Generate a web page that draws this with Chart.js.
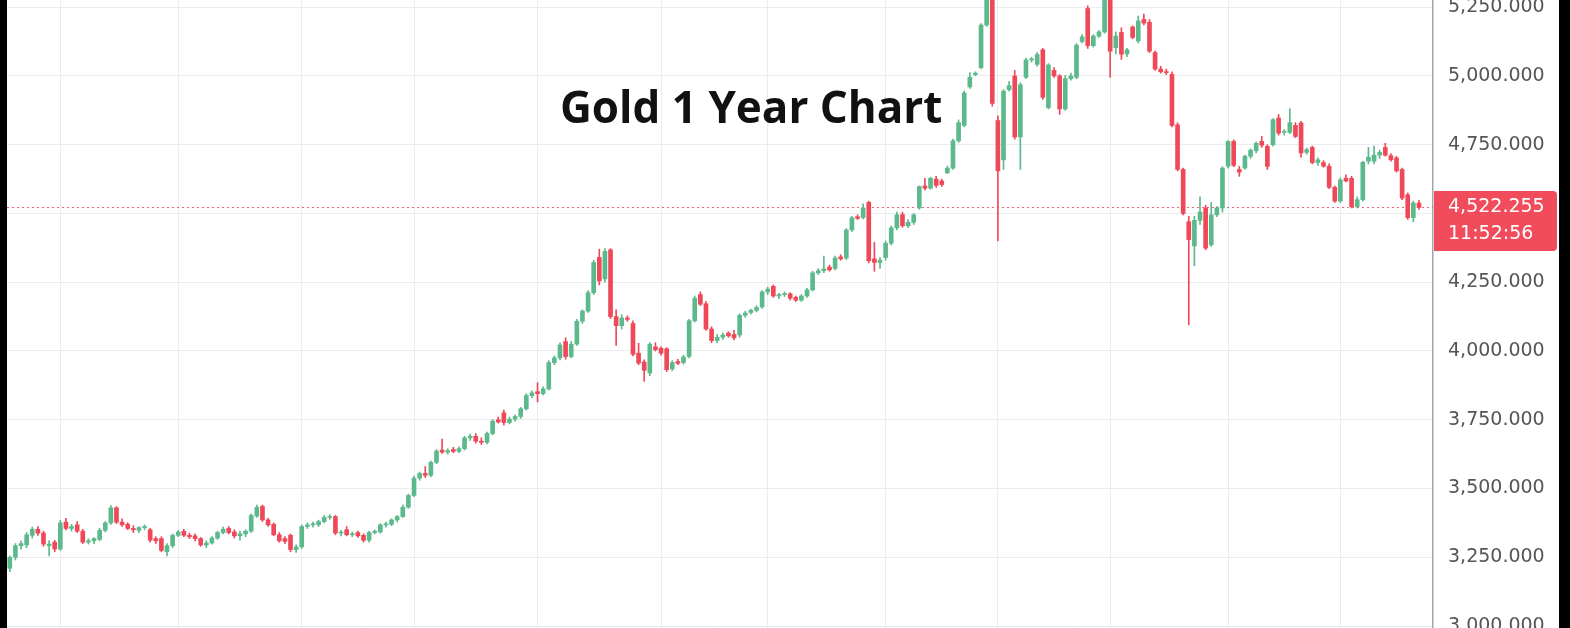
<!DOCTYPE html>
<html>
<head>
<meta charset="utf-8">
<script src="https://cdn.jsdelivr.net/npm/chart.js@4.4.1/dist/chart.umd.min.js"></script>
<style>
    html, body { margin: 0; padding: 0; background: #000; width: 1570px; height: 628px; overflow: hidden; }
    #wrap { position: absolute; left: 7px; top: 0; width: 1552px; height: 628px; background: #fff; }
    #title { position: absolute; left: 560px; top: 84px; font: bold 44px "Open Sans"; line-height: 44px; color: #111; white-space: nowrap; }
</style>
</head>
<body>
<div id="wrap"><canvas id="chart" width="1552" height="628"></canvas></div>
<div id="title">Gold 1 Year Chart</div>
<script>
// Daily OHLC candles (one entry per trading day)
const opens = [
    3210,3250,3292,3295,3330,3352,3338,3292,3305,3280,
    3378,3355,3368,3345,3305,3310,3315,3348,3375,3430,
    3378,3370,3355,3348,3358,3350,3318,3318,3270,3292,
    3330,3345,3330,3328,3318,3295,3302,3320,3340,3355,
    3342,3328,3335,3345,3400,3435,3386,3370,3332,3318,
    3330,3278,3288,3362,3368,3368,3380,3395,3398,3338,
    3350,3332,3340,3330,3312,3340,3342,3368,3370,3386,
    3398,3432,3475,3538,3555,3548,3595,3640,3632,3642,
    3635,3645,3684,3690,3672,3668,3700,3750,3775,3740,
    3752,3762,3790,3838,3852,3845,3862,3958,3975,4034,
    3980,4025,4108,4145,4212,4340,4262,4368,4125,4092,
    4120,4100,3992,3960,3920,4015,4010,4008,3935,3962,
    3958,3980,4110,4205,4172,4080,4038,4050,4065,4060,
    4058,4130,4140,4148,4160,4215,4235,4200,4205,4208,
    4195,4185,4200,4222,4284,4292,4305,4300,4342,4338,
    4440,4488,4485,4540,4335,4322,4340,4392,4448,4496,
    4455,4468,4520,4600,4592,4625,4618,4648,4665,4764,
    4820,4960,5005,5030,5185,5300,4838,4695,4950,5000,
    4778,4995,5058,5042,5095,4885,5020,5000,4880,4990,
    4995,5125,5245,5110,5145,5160,5300,5103,5158,5080,
    5178,5127,5205,5195,5085,5025,5015,5006,4822,4660,
    4470,4382,4475,4520,4386,4495,4520,4672,4762,4660,
    4665,4708,4728,4762,4744,4750,4847,4795,4795,4820,
    4829,4722,4740,4685,4685,4672,4595,4545,4628,4628,
    4525,4550,4690,4690,4712,4740,4710,4702,4660,4568,
    4485,4538
];
const highs = [
    3255,3300,3310,3340,3360,3362,3345,3310,3312,3385,
    3392,3370,3380,3352,3318,3322,3355,3380,3438,3434,
    3390,3376,3365,3362,3368,3355,3325,3325,3300,3335,
    3348,3352,3338,3335,3322,3310,3325,3345,3360,3362,
    3350,3345,3350,3408,3440,3440,3392,3375,3340,3325,
    3335,3295,3368,3375,3378,3385,3402,3405,3402,3348,
    3362,3342,3345,3335,3345,3350,3372,3378,3390,3402,
    3440,3480,3545,3560,3580,3600,3642,3680,3645,3650,
    3652,3690,3698,3700,3685,3705,3750,3760,3785,3760,
    3768,3795,3845,3855,3885,3870,3965,3982,4030,4048,
    4035,4115,4150,4220,4330,4370,4372,4372,4150,4132,
    4128,4110,4028,3968,4030,4030,4015,4012,3965,3970,
    3985,4115,4200,4215,4180,4088,4060,4065,4070,4075,
    4135,4145,4152,4165,4220,4232,4240,4210,4215,4212,
    4200,4205,4228,4290,4300,4345,4312,4345,4350,4445,
    4490,4495,4535,4545,4395,4340,4400,4455,4505,4505,
    4478,4500,4600,4628,4632,4635,4625,4672,4770,4840,
    4945,5012,5015,5190,5300,5320,4855,4950,4980,5020,
    4975,5065,5068,5085,5100,5045,5030,5005,5002,5010,
    5118,5150,5255,5150,5165,5300,5320,5160,5175,5100,
    5182,5218,5225,5205,5090,5035,5025,5015,4830,4665,
    4490,4490,4560,4530,4540,4525,4670,4765,4768,4672,
    4712,4735,4760,4780,4750,4845,4860,4805,4880,4830,
    4835,4738,4745,4702,4692,4680,4600,4630,4640,4635,
    4560,4690,4740,4745,4730,4755,4718,4708,4665,4575,
    4545,4548
];
const lows = [
    3198,3240,3280,3285,3320,3330,3290,3255,3270,3275,
    3350,3345,3340,3300,3298,3300,3310,3342,3370,3372,
    3362,3350,3340,3340,3350,3305,3300,3270,3255,3285,
    3325,3325,3318,3310,3290,3285,3298,3315,3335,3335,
    3320,3312,3325,3340,3395,3380,3362,3328,3305,3300,
    3270,3268,3282,3355,3360,3362,3375,3388,3332,3328,
    3328,3325,3322,3305,3305,3335,3338,3360,3365,3378,
    3395,3428,3470,3530,3540,3542,3590,3628,3625,3630,
    3630,3640,3675,3665,3660,3662,3695,3738,3730,3735,
    3745,3755,3785,3830,3815,3840,3858,3950,3968,3970,
    3975,4020,4100,4140,4205,4240,4250,4118,4020,4080,
    4108,3982,3950,3890,3910,4000,3985,3925,3928,3950,
    3952,3975,4105,4165,4075,4030,4030,4042,4050,4040,
    4050,4122,4135,4142,4155,4205,4195,4190,4198,4185,
    4180,4180,4195,4218,4278,4285,4290,4295,4330,4332,
    4435,4478,4480,4320,4290,4300,4330,4385,4440,4450,
    4448,4460,4515,4585,4588,4595,4598,4645,4660,4758,
    4815,4955,5000,5025,5180,4890,4400,4660,4945,4770,
    4660,4990,5050,5035,4915,4880,4995,4860,4875,4985,
    4990,5120,5100,5105,5140,5155,4995,5080,5060,5070,
    5135,5120,5185,5085,5020,5010,5005,4815,4655,4495,
    4095,4310,4460,4368,4380,4488,4505,4665,4670,4635,
    4660,4700,4720,4740,4660,4745,4785,4785,4790,4775,
    4705,4715,4680,4675,4668,4590,4540,4540,4615,4520,
    4520,4545,4680,4680,4700,4708,4690,4650,4550,4478,
    4470,4515
];
const closes = [
    3250,3292,3300,3332,3352,3338,3298,3298,3280,3375,
    3355,3362,3345,3305,3310,3318,3348,3375,3430,3378,
    3368,3355,3350,3358,3362,3312,3310,3275,3292,3330,
    3342,3330,3325,3318,3295,3302,3320,3340,3352,3340,
    3328,3335,3345,3402,3432,3386,3368,3332,3310,3308,
    3278,3288,3362,3368,3372,3380,3395,3398,3338,3342,
    3332,3335,3328,3312,3340,3345,3368,3372,3386,3398,
    3432,3475,3538,3555,3548,3595,3636,3632,3638,3635,
    3645,3684,3690,3672,3668,3700,3745,3742,3740,3752,
    3762,3790,3838,3848,3845,3862,3958,3975,4022,3980,
    4025,4108,4145,4212,4322,4255,4362,4125,4092,4120,
    4115,3988,3956,3930,4025,4005,3992,3932,3958,3955,
    3978,4110,4192,4170,4080,4038,4050,4058,4055,4048,
    4130,4138,4148,4158,4215,4225,4200,4205,4208,4192,
    4185,4200,4222,4284,4292,4298,4295,4338,4335,4440,
    4484,4482,4520,4328,4322,4330,4392,4448,4495,4455,
    4468,4495,4598,4592,4628,4602,4605,4665,4764,4830,
    4938,4995,5010,5185,5290,4900,4655,4945,4965,4778,
    4968,5058,5060,5078,4922,5040,5000,4880,4990,5000,
    5112,5142,5110,5145,5160,5290,5090,5145,5079,5095,
    5140,5200,5192,5090,5025,5015,5012,4820,4660,4500,
    4405,4475,4505,4374,4495,4520,4665,4762,4675,4650,
    4708,4730,4755,4748,4671,4841,4792,4798,4830,4780,
    4720,4732,4685,4695,4672,4595,4545,4622,4618,4525,
    4550,4686,4705,4712,4722,4712,4695,4655,4556,4485,
    4538,4522.255
];

// candle index where each month starts (vertical grid lines)
const monthStarts = [9, 30, 52, 72, 94, 116, 135, 156, 176, 196, 217, 237];
// price axis ticks
const priceTicks = [3000, 3250, 3500, 3750, 4000, 4250, 4500, 4750, 5000, 5250];
const lastPrice = 4522.255;
const countdown = '11:52:56';
const emptySlots = 2; // room left of the price scale after the last candle

const UP = '#5cb98c';
const DOWN = '#ef4859';
const GRID = '#e9ecf1';

const labels = opens.map((_, i) => i);
for (let k = 0; k < emptySlots; k++) labels.push(opens.length + k);

const bodies = opens.map((o, i) => [o, closes[i]]);
const wicks = lows.map((l, i) => [l, highs[i]]);
const colors = opens.map((o, i) => closes[i] >= o ? UP : DOWN);

const fmt = v => v.toLocaleString('en-US', { minimumFractionDigits: 3, maximumFractionDigits: 3 });

// dotted last-price line behind the candles, price tag on the scale
const priceLine = {
    id: 'priceLine',
    beforeDatasetsDraw(chart) {
        const { ctx, chartArea, scales } = chart;
        const py = Math.round(scales.y.getPixelForValue(lastPrice)) + 0.5;
        ctx.save();
        ctx.strokeStyle = 'rgba(239, 72, 89, 0.85)';
        ctx.lineWidth = 1;
        ctx.setLineDash([2, 3]);
        ctx.beginPath();
        ctx.moveTo(chartArea.left, py);
        ctx.lineTo(chartArea.right, py);
        ctx.stroke();
        ctx.restore();
    },
    afterDraw(chart) {
        const { ctx, chartArea, scales } = chart;
        const py = Math.round(scales.y.getPixelForValue(lastPrice));
        const x = chartArea.right + 1;
        ctx.save();
        ctx.fillStyle = '#f04c5c';
        ctx.beginPath();
        ctx.roundRect(x, py - 16, 123, 60, [0, 4, 4, 0]);
        ctx.fill();
        ctx.fillStyle = '#fff';
        ctx.font = '19px "DejaVu Sans"';
        ctx.textBaseline = 'middle';
        ctx.fillText(fmt(lastPrice), chartArea.right + 15, py);
        ctx.fillText(countdown, chartArea.right + 15, py + 27);
        ctx.restore();
    }
};

const ctx = document.getElementById('chart').getContext('2d');
new Chart(ctx, {
    type: 'bar',
    data: {
        labels: labels,
        datasets: [{
            data: bodies,
            backgroundColor: colors,
            barThickness: 4,
            minBarLength: 1,
            grouped: false
        }, {
            data: wicks,
            backgroundColor: colors,
            barThickness: 1,
            grouped: false
        }]
    },
    options: {
        responsive: false,
        animation: false,
        layout: { padding: 0 },
        plugins: {
            legend: { display: false },
            tooltip: { enabled: false }
        },
        scales: {
            x: {
                offset: true,
                ticks: { display: false },
                border: { display: false },
                grid: { color: GRID, offset: false, drawTicks: false },
                afterBuildTicks: scale => {
                    scale.ticks = monthStarts.map(v => ({ value: v }));
                }
            },
            y: {
                position: 'right',
                min: 2993,
                max: 5276,
                afterBuildTicks: scale => {
                    scale.ticks = priceTicks.map(v => ({ value: v }));
                },
                afterFit: scale => {
                    scale.width = 126;
                    scale.paddingTop = 0;
                    scale.paddingBottom = 0;
                },
                ticks: {
                    padding: 15,
                    color: '#555',
                    font: { family: 'DejaVu Sans', size: 19 },
                    callback: v => fmt(v)
                },
                grid: { color: GRID, drawTicks: false },
                border: { display: true, color: '#a3a6ad', width: 1.5 }
            }
        }
    },
    plugins: [priceLine]
});
</script>
</body>
</html>
